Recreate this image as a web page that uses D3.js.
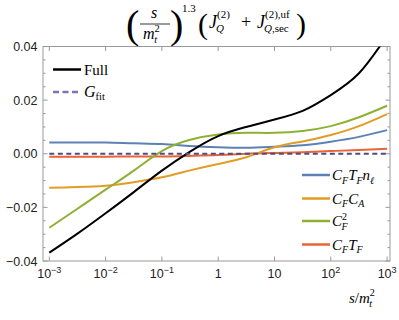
<!DOCTYPE html>
<html>
<head>
<meta charset="utf-8">
<script src="https://cdn.jsdelivr.net/npm/d3@7"></script>
<style>
  html, body { margin: 0; padding: 0; background: #fff; }
  svg { display: block; }
</style>
</head>
<body>
<div id="chart"></div>
<script>
// log10(s/m_t^2) sample points
const logS = [-3, -2.5, -2, -1.5, -1, -0.5, 0, 0.5, 1, 1.5, 2, 2.5, 3];

// Series values
const full   = [-0.0369, -0.0298, -0.0222, -0.0143, -0.0063, 0.0008, 0.0066, 0.0100, 0.0128, 0.0160, 0.0219, 0.0300, 0.0440];
const cf2    = [-0.0276, -0.0205, -0.0134, -0.0063, 0.0010, 0.0052, 0.0072, 0.0078, 0.0078, 0.0085, 0.0103, 0.0136, 0.0179];
const cfca   = [-0.0127, -0.0124, -0.0119, -0.0106, -0.0088, -0.0062, -0.0038, -0.0013, 0.0024, 0.0046, 0.0070, 0.0103, 0.0148];
const cftfnl = [0.0042, 0.0042, 0.0042, 0.0039, 0.0036, 0.0029, 0.0024, 0.0022, 0.0026, 0.0032, 0.0045, 0.0063, 0.0088];
const cftf   = [-0.0011, -0.0011, -0.0011, -0.0010, -0.0010, -0.0008, -0.0005, 0.0000, 0.0003, 0.0006, 0.0010, 0.0014, 0.0019];
const gfit   = [0, 0, 0, 0, 0, 0, 0, 0, 0, 0, 0, 0, 0];

const yTicks = [-0.04, -0.02, 0, 0.02, 0.04];
const yTickLabels = ['\u22120.04', '\u22120.02', '0.00', '0.02', '0.04'];
const xTicks = [1e-3, 1e-2, 1e-1, 1, 10, 1e2, 1e3];
const xTickLabels = [['10', '\u22123'], ['10', '\u22122'], ['10', '\u22121'], ['1', ''], ['10', ''], ['10', '2'], ['10', '3']];

const colors = { full: '#000000', gfit: '#4e4b86', nl: '#5e81b5', ca: '#e19c24', cf2: '#8fb032', tf: '#eb6235' };

const W = 399, H = 320;
const frame = { left: 43, right: 390, top: 46.5, bottom: 261 };

const svg = d3.select('#chart').append('svg')
    .attr('width', W).attr('height', H)
    .style('font-family', "'Liberation Sans', Arial, sans-serif");

const x = d3.scaleLog().domain([1e-3, 1e3]).range([49.3, 387.1]);
const y = d3.scaleLinear().domain([-0.04, 0.04]).range([frame.bottom, frame.top]);

svg.append('defs').append('clipPath').attr('id', 'clip')
    .append('rect')
    .attr('x', frame.left).attr('y', frame.top)
    .attr('width', frame.right - frame.left).attr('height', frame.bottom - frame.top);

// Frame
svg.append('rect')
    .attr('x', frame.left).attr('y', frame.top)
    .attr('width', frame.right - frame.left).attr('height', frame.bottom - frame.top)
    .attr('fill', 'none').attr('stroke', '#9a9a9a').attr('stroke-width', 1);

// Ticks (inward, all four sides)
const tickG = svg.append('g').attr('stroke', '#9a9a9a').attr('stroke-width', 1);
xTicks.forEach(v => {
    tickG.append('line').attr('x1', x(v)).attr('x2', x(v)).attr('y1', frame.bottom).attr('y2', frame.bottom - 4.5);
    tickG.append('line').attr('x1', x(v)).attr('x2', x(v)).attr('y1', frame.top).attr('y2', frame.top + 4.5);
});
d3.range(-0.04, 0.0401, 0.005).forEach(v => {
    const major = Math.abs(Math.round(v * 1000) % 20) === 0;
    const len = major ? 4.5 : 2.5;
    tickG.append('line').attr('x1', frame.left).attr('x2', frame.left + len).attr('y1', y(v)).attr('y2', y(v));
    tickG.append('line').attr('x1', frame.right).attr('x2', frame.right - len).attr('y1', y(v)).attr('y2', y(v));
});

// Tick labels
svg.append('g').selectAll('text')
    .data(yTicks)
    .enter()
    .append('text')
    .attr('x', 37.5)
    .attr('y', d => y(d) + 4.5)
    .attr('text-anchor', 'end')
    .attr('fill', '#222')
    .style('font-size', '12.5px')
    .text((d, i) => yTickLabels[i]);

const xl = svg.append('g').selectAll('text')
    .data(xTicks)
    .enter()
    .append('text')
    .attr('x', d => x(d))
    .attr('y', 278)
    .attr('text-anchor', 'middle')
    .attr('fill', '#222')
    .style('font-size', '12.5px');
xl.append('tspan').text((d, i) => xTickLabels[i][0]);
xl.append('tspan').attr('dy', -5).style('font-size', '9px').text((d, i) => xTickLabels[i][1]);

// Curves
const line = d3.line()
    .x((d, i) => x(Math.pow(10, logS[i])))
    .y(d => y(d))
    .curve(d3.curveNatural);

const plot = svg.append('g').attr('clip-path', 'url(#clip)').attr('fill', 'none');
const series = [
    { v: cftf, c: colors.tf },
    { v: cftfnl, c: colors.nl },
    { v: cfca, c: colors.ca },
    { v: cf2, c: colors.cf2 },
    { v: full, c: colors.full }
];
series.forEach(s => {
    plot.append('path').attr('d', line(s.v)).attr('stroke', s.c).attr('stroke-width', 2);
});
plot.append('path').attr('d', line(gfit))
    .attr('stroke', colors.gfit).attr('stroke-width', 2).attr('stroke-dasharray', '5,3.5');

// Legends (serif, math-like)
const serif = "'Liberation Serif', 'DejaVu Serif', serif";
const leg1 = svg.append('g').style('font-family', serif).attr('fill', '#000');
leg1.append('line').attr('x1', 53).attr('x2', 81).attr('y1', 69.5).attr('y2', 69.5)
    .attr('stroke', colors.full).attr('stroke-width', 2.5);
leg1.append('text').attr('x', 84).attr('y', 74.5).style('font-size', '15px').text('Full');
leg1.append('line').attr('x1', 53).attr('x2', 81).attr('y1', 92).attr('y2', 92)
    .attr('stroke', '#7f72b8').attr('stroke-width', 2.5).attr('stroke-dasharray', '6,3.5');
const gt = leg1.append('text').attr('x', 84).attr('y', 97).style('font-size', '16px');
gt.append('tspan').style('font-style', 'italic').text('G');
gt.append('tspan').attr('dy', 3).style('font-size', '10.5px').text('fit');

const leg2 = [
    { c: colors.nl, y: 175, parts: [['C', 0, 'i'], ['F', 1, 'i'], ['T', 0, 'i'], ['F', 1, 'i'], ['n', 0, 'i'], ['\u2113', 1, 'i']] },
    { c: colors.ca, y: 198.5, parts: [['C', 0, 'i'], ['F', 1, 'i'], ['C', 0, 'i'], ['A', 1, 'i']] },
    { c: colors.cf2, y: 221, parts: [['C', 0, 'i'], ['2', -1, 'n'], ['F', 1, 'i']] },
    { c: colors.tf, y: 244.5, parts: [['C', 0, 'i'], ['F', 1, 'i'], ['T', 0, 'i'], ['F', 1, 'i']] }
];
const lg = svg.append('g').style('font-family', serif);
leg2.forEach(item => {
    lg.append('line').attr('x1', 302).attr('x2', 330).attr('y1', item.y).attr('y2', item.y)
        .attr('stroke', item.c).attr('stroke-width', 2.5);
    const t = lg.append('text').attr('x', 332).attr('y', item.y + 5).style('font-size', '15px');
    let prev = 0;
    item.parts.forEach(p => {
        const shift = p[1] === 1 ? 3.5 : p[1] === -1 ? -6 : 0;
        const sp = t.append('tspan').attr('dy', shift - prev).text(p[0])
            .style('font-style', p[2] === 'i' ? 'italic' : 'normal')
            .style('font-size', p[1] === 0 ? '15px' : '10px');
        if (item.parts.length === 3 && p[0] === 'F') sp.attr('dx', -5.5);
        prev = shift;
    });
});

// x-axis title s/m_t^2
const xt = svg.append('text').attr('x', 349).attr('y', 303)
    .style('font-family', serif).style('font-size', '15px');
xt.append('tspan').style('font-style', 'italic').text('s');
xt.append('tspan').text('/');
xt.append('tspan').style('font-style', 'italic').text('m');
xt.append('tspan').attr('dy', -7).style('font-size', '10px').text('2');
xt.append('tspan').attr('dy', 10.5).attr('dx', -5.5).style('font-size', '10px').style('font-style', 'italic').text('t');

// Title: (s/m_t^2)^1.3 (J_Q^(2) + J_{Q,sec}^{(2),uf})
const tg = svg.append('g').style('font-family', serif).attr('fill', '#000');
tg.append('text').attr('x', 126).attr('y', 38).style('font-size', '40px').text('(');
tg.append('text').attr('x', 154).attr('y', 17.5).attr('text-anchor', 'middle')
    .style('font-size', '16px').style('font-style', 'italic').text('s');
tg.append('line').attr('x1', 140).attr('x2', 170).attr('y1', 24).attr('y2', 24)
    .attr('stroke', '#000').attr('stroke-width', 0.8);
const den = tg.append('text').attr('x', 143).attr('y', 39).style('font-size', '16px');
den.append('tspan').style('font-style', 'italic').text('m');
den.append('tspan').attr('dy', -7).style('font-size', '10.5px').text('2');
den.append('tspan').attr('dy', 11).attr('dx', -5.5).style('font-size', '10.5px').style('font-style', 'italic').text('t');
tg.append('text').attr('x', 170).attr('y', 38).style('font-size', '40px').text(')');
tg.append('text').attr('x', 182).attr('y', 11.5).style('font-size', '11px').text('1.3');

// second bracket group, scripts as separate texts
tg.append('text').attr('x', 198).attr('y', 34).style('font-size', '30px').text('(');
tg.append('text').attr('x', 209).attr('y', 28).style('font-size', '18px').style('font-style', 'italic').text('J');
tg.append('text').attr('x', 217).attr('y', 18).style('font-size', '11px').text('(2)');
tg.append('text').attr('x', 216).attr('y', 32).style('font-size', '11px').style('font-style', 'italic').text('Q');
tg.append('text').attr('x', 241).attr('y', 28).style('font-size', '18px').text('+');
tg.append('text').attr('x', 257).attr('y', 28).style('font-size', '18px').style('font-style', 'italic').text('J');
tg.append('text').attr('x', 265).attr('y', 18).style('font-size', '11px').text('(2),uf');
const sub2 = tg.append('text').attr('x', 264).attr('y', 32).style('font-size', '11px');
sub2.append('tspan').style('font-style', 'italic').text('Q');
sub2.append('tspan').text(',sec');
tg.append('text').attr('x', 296).attr('y', 34).style('font-size', '30px').text(')');
</script>
</body>
</html>
